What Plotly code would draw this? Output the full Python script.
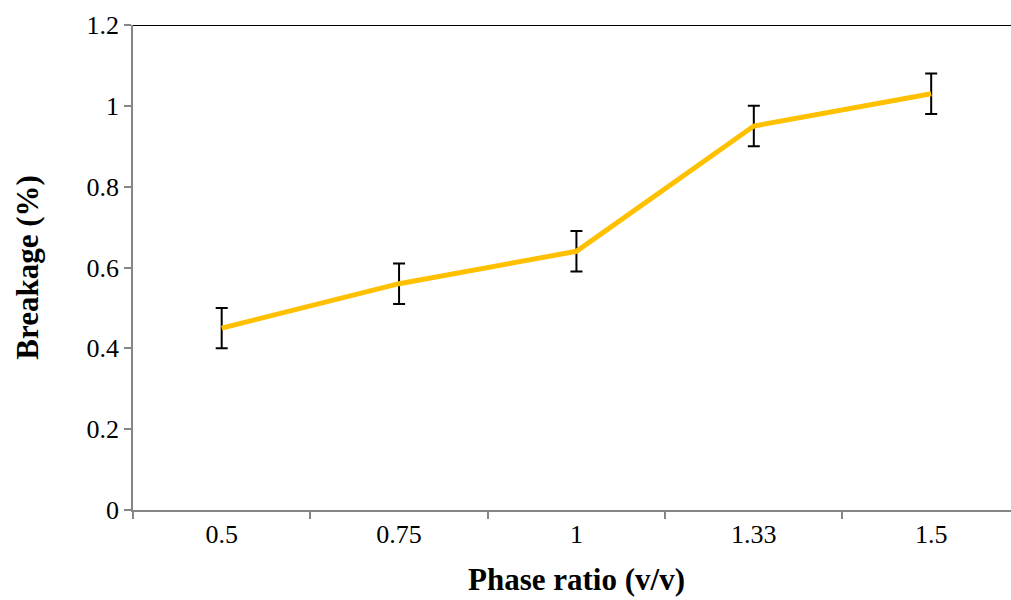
import plotly.graph_objects as go

categories = ["0.5", "0.75", "1", "1.33", "1.5"]
breakage = [0.45, 0.56, 0.64, 0.95, 1.03]
errors = [0.05, 0.05, 0.05, 0.05, 0.05]
y_ticks = [0, 0.2, 0.4, 0.6, 0.8, 1, 1.2]
y_tick_labels = ["0", "0.2", "0.4", "0.6", "0.8", "1", "1.2"]

font_family = "Liberation Serif, Times New Roman, serif"

fig = go.Figure()
fig.add_trace(go.Scatter(
    x=categories, y=breakage, mode="lines",
    line=dict(color="#FFC000", width=5),
    error_y=dict(type="data", array=errors, visible=True,
                 color="black", thickness=2, width=6),
    showlegend=False,
))

fig.update_layout(
    width=1011, height=600,
    margin=dict(l=133, r=0, t=25, b=90),
    paper_bgcolor="white", plot_bgcolor="white",
    font=dict(family=font_family, size=26, color="black"),
    xaxis=dict(
        type="category", range=[-0.5, 4.45],
        showline=True, linecolor="#868686", linewidth=1.5,
        ticks="outside", tickson="boundaries", ticklen=7,
        tickcolor="#868686", tickwidth=1.5,
        showgrid=False, zeroline=False,
        tickfont=dict(family=font_family, size=26),
    ),
    yaxis=dict(
        range=[0, 1.2], tickvals=y_ticks, ticktext=y_tick_labels,
        showline=True, linecolor="#868686", linewidth=1.5,
        ticks="outside", ticklen=7, tickcolor="#868686", tickwidth=1.5,
        showgrid=False, zeroline=False,
        tickfont=dict(family=font_family, size=26),
    ),
)

fig.add_shape(type="line", xref="paper", yref="y", x0=0, x1=1, y0=1.2, y1=1.2,
              line=dict(color="black", width=2))

fig.add_annotation(text="<b>Phase ratio (v/v)</b>", xref="x", yref="paper",
                   x=2, y=-0.144, showarrow=False, yanchor="middle",
                   font=dict(family=font_family, size=31))
fig.add_annotation(text="<b>Breakage (%)</b>", xref="paper", yref="paper",
                   x=-0.1205, y=0.5, textangle=-90, showarrow=False,
                   xanchor="center", yanchor="middle",
                   font=dict(family=font_family, size=31))

fig.write_html("out.html", config={"displayModeBar": False},
               post_script="document.body.style.margin='0';document.body.style.overflow='hidden';")
